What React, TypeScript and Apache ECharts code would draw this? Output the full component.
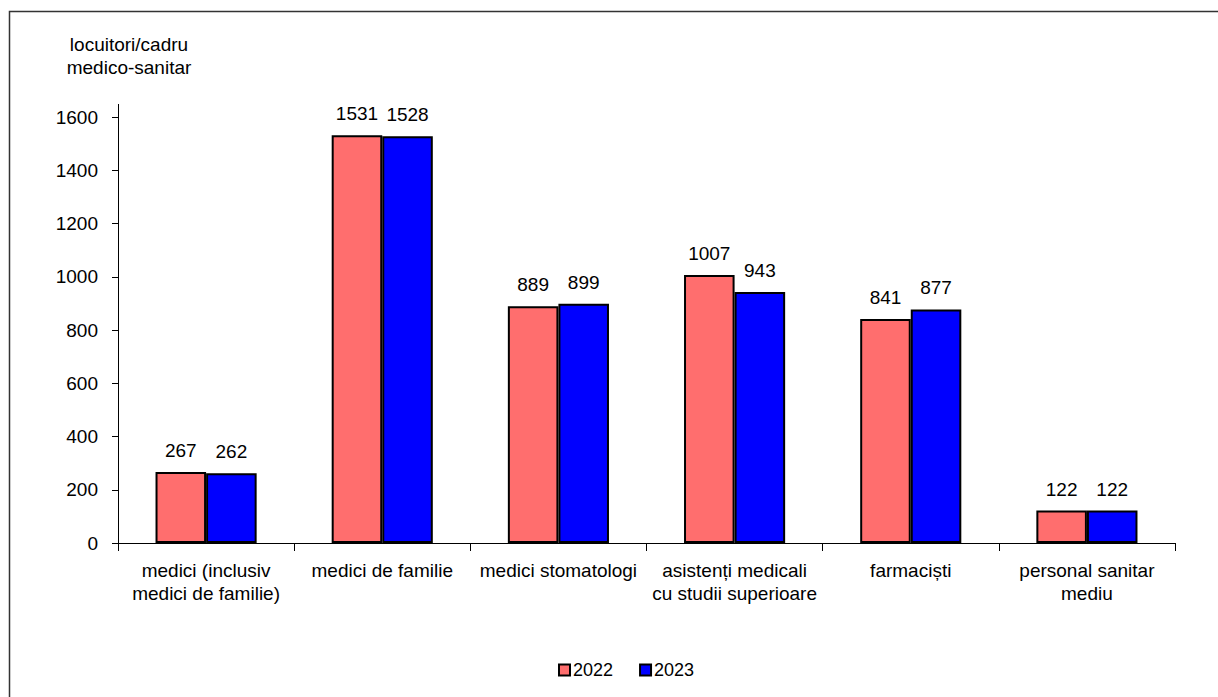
import React, { useEffect, useRef } from "react";
import * as echarts from "echarts";

const categories = [
  "medici (inclusiv\nmedici de familie)",
  "medici de familie",
  "medici stomatologi",
  "asistenți medicali\ncu studii superioare",
  "farmaciști",
  "personal sanitar\nmediu",
];
const values2022 = [267, 1531, 889, 1007, 841, 122];
const values2023 = [262, 1528, 899, 943, 877, 122];
const seriesNames = ["2022", "2023"];
const yAxisTitle = "locuitori/cadru\nmedico-sanitar";

const FONT = "'Liberation Sans', Arial, sans-serif";

export default function App() {
  const ref = useRef<HTMLDivElement>(null);
  useEffect(() => {
    if (!ref.current) return;
    const chart = echarts.init(ref.current, null, { renderer: "svg" });
    const labelStyle = {
      show: true,
      position: "top",
      distance: 12,
      color: "#000",
      fontSize: 19,
      fontFamily: FONT,
    };
    chart.setOption({
      animation: false,
      backgroundColor: "#fff",
      textStyle: { fontFamily: FONT },
      grid: { left: 118, right: 43, top: 117, bottom: 154, containLabel: false },
      graphic: [
        {
          type: "rect",
          shape: { x: 9.5, y: 11.5, width: 1400, height: 900 },
          style: { fill: "none", stroke: "#333", lineWidth: 1.5 },
          silent: true,
        },
        {
          type: "line",
          shape: { x1: 118.5, y1: 104, x2: 118.5, y2: 118 },
          style: { stroke: "#000", lineWidth: 1 },
          silent: true,
        },
        {
          type: "text",
          x: 129,
          y: 33,
          style: {
            text: yAxisTitle,
            align: "center",
            fill: "#000",
            fontSize: 19,
            lineHeight: 23,
            fontFamily: FONT,
          },
        },
      ],
      legend: {
        data: seriesNames,
        left: 553,
        top: 656,
        icon: "rect",
        itemWidth: 11,
        itemHeight: 11,
        itemGap: 26,
        textStyle: { fontSize: 18, color: "#000", fontFamily: FONT, padding: [0, 0, 0, -2] },
      },
      xAxis: {
        type: "category",
        data: categories,
        axisLine: { lineStyle: { color: "#000", width: 1 } },
        axisTick: { show: true, length: 8, lineStyle: { color: "#000" } },
        axisLabel: {
          color: "#000",
          fontSize: 19,
          lineHeight: 23,
          margin: 16,
          interval: 0,
          fontFamily: FONT,
        },
      },
      yAxis: {
        type: "value",
        min: 0,
        max: 1600,
        interval: 200,
        splitLine: { show: false },
        axisLine: { show: true, lineStyle: { color: "#000", width: 1 } },
        axisTick: { show: true, length: 6, lineStyle: { color: "#000" } },
        axisLabel: {
          color: "#000",
          fontSize: 19,
          margin: 20,
          fontFamily: FONT,
          formatter: (v: number) => String(v),
        },
      },
      series: [
        {
          name: seriesNames[0],
          type: "bar",
          data: values2022,
          barGap: "0%",
          barCategoryGap: "42.6%",
          itemStyle: { color: "#FF6E6E", borderColor: "#000", borderWidth: 2 },
          label: labelStyle,
        },
        {
          name: seriesNames[1],
          type: "bar",
          data: values2023,
          barGap: "0%",
          barCategoryGap: "42.6%",
          itemStyle: { color: "#0000FF", borderColor: "#000", borderWidth: 2 },
          label: labelStyle,
        },
      ],
    });
    return () => chart.dispose();
  }, []);
  return (
    <div
      ref={ref}
      style={{ position: "fixed", left: 0, top: 0, width: 1218, height: 697 }}
    />
  );
}
